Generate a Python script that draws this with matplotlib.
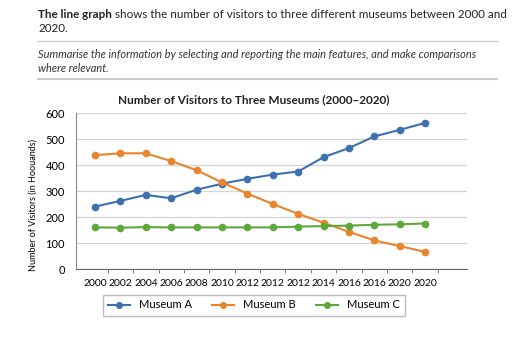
import numpy as np
import matplotlib
matplotlib.use("Agg")
import matplotlib.pyplot as plt

plt.rcParams["font.family"] = ["Lato", "DejaVu Sans"]

YEARS = ["2000", "2002", "2004", "2006", "2008", "2010", "2012",
         "2012", "2012", "2014", "2016", "2016", "2020", "2020"]
MUSEUM_A = [240, 262, 285, 272, 305, 328, 347, 363, 375, 430, 465, 510, 535, 562]
MUSEUM_B = [438, 445, 445, 415, 380, 333, 290, 250, 212, 178, 143, 110, 88, 66]
MUSEUM_C = [160, 159, 161, 160, 160, 160, 160, 160, 163, 165, 167, 170, 172, 175]
SERIES = {"Museum A": MUSEUM_A, "Museum B": MUSEUM_B, "Museum C": MUSEUM_C}
COLORS = {"Museum A": "#3e6fb0", "Museum B": "#e8852c", "Museum C": "#5da83a"}

W, H = 512, 341
fig = plt.figure(figsize=(W / 100, H / 100), dpi=100)
renderer = fig.canvas.get_renderer()

# header text: bold lead-in followed by normal text
lead = fig.text(38 / W, 1 - 15 / H, "The line graph", fontsize=8.4, fontweight="bold",
                va="center", ha="left", color="#222222")
lead_w = lead.get_window_extent(renderer).width
fig.text((38 + lead_w + 3) / W, 1 - 15 / H,
         "shows the number of visitors to three different museums between 2000 and",
         fontsize=8.4, va="center", ha="left", color="#222222")
fig.text(38 / W, 1 - 29 / H, "2020.", fontsize=8.4, va="center", ha="left", color="#222222")
fig.add_artist(plt.Line2D([38 / W, 497 / W], [1 - 41 / H, 1 - 41 / H], color="#cccccc", lw=1))
fig.text(38 / W, 1 - 54 / H,
         "Summarise the information by selecting and reporting the main features, and make comparisons",
         fontsize=7.9, style="italic", va="center", ha="left", color="#333333")
fig.text(38 / W, 1 - 68 / H, "where relevant.", fontsize=7.9, style="italic",
         va="center", ha="left", color="#333333")
fig.add_artist(plt.Line2D([38 / W, 497 / W], [1 - 79 / H, 1 - 79 / H], color="#cccccc", lw=1.5))

fig.text(254 / W, 1 - 100 / H, "Number of Visitors to Three Museums (2000–2020)",
         fontsize=8.5, fontweight="bold", ha="center", va="center", color="#222222")

ax = fig.add_axes([76 / W, 1 - 269 / H, (467 - 76) / W, (269 - 113) / H])
x = np.arange(len(YEARS))
for name, vals in SERIES.items():
    ax.plot(x, vals, color=COLORS[name], marker="o", markersize=4.5, lw=1.5, label=name)

ax.set_ylim(0, 600)
ax.set_yticks(range(0, 601, 100))
ax.set_xlim(-0.75, 14.65)
ax.set_xticks(x)
ax.set_xticklabels(YEARS, fontsize=7.5)
ax.set_xticks(np.arange(0.5, 14, 1), minor=True)
ax.tick_params(axis="x", which="major", length=0, pad=7)
ax.tick_params(axis="x", which="minor", length=3, color="#666666")
ax.tick_params(axis="y", length=0, labelsize=8, pad=8)
ax.grid(axis="y", color="#d4d4d4", lw=0.9)
ax.set_axisbelow(True)
for s in ("top", "right"):
    ax.spines[s].set_visible(False)
ax.spines["left"].set_color("#888888")
ax.spines["bottom"].set_color("#666666")
ax.set_ylabel("Number of Visitors (in Hoouands)", fontsize=6.5)
ax.yaxis.set_label_coords(-38 / (467 - 76), 0.41)

fig.legend(loc="center", bbox_to_anchor=(254 / W, 1 - 305 / H), ncol=3,
           fontsize=8, frameon=True, fancybox=False, edgecolor="#aaaaaa",
           handlelength=2.0, columnspacing=1.8, borderpad=0.45, markerscale=0.9)

fig.savefig("out.png", dpi=100, facecolor="white")
